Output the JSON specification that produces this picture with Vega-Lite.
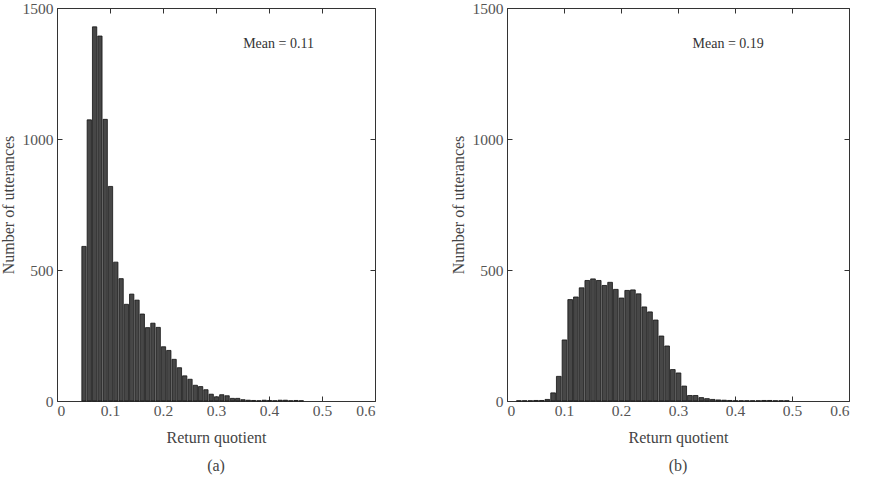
{
  "$schema": "https://vega.github.io/schema/vega-lite/v6.json",
  "padding": {"left": 0, "top": 1, "right": 18, "bottom": 5},
  "background": "white",
  "config": {
    "font": "Liberation Serif",
    "view": {"stroke": null},
    "axis": {
      "labelFont": "Liberation Serif", "titleFont": "Liberation Serif",
      "labelFontSize": 15.5, "titleFontSize": 16,
      "labelColor": "#555", "titleColor": "#444", "titleFontWeight": "normal",
      "domainColor": "#333", "tickColor": "#333", "grid": false,
      "tickSize": -5, "labelPadding": 9
    },
    "title": {"font": "Liberation Serif", "fontSize": 16, "fontWeight": "normal", "color": "#444"},
    "concat": {"spacing": 74}
  },
  "datasets": {
    "a": [
      {"bin_start": 0.045, "bin_end": 0.055, "count": 590},
      {"bin_start": 0.055, "bin_end": 0.065, "count": 1073},
      {"bin_start": 0.065, "bin_end": 0.075, "count": 1428},
      {"bin_start": 0.075, "bin_end": 0.085, "count": 1393},
      {"bin_start": 0.085, "bin_end": 0.095, "count": 1075},
      {"bin_start": 0.095, "bin_end": 0.105, "count": 819},
      {"bin_start": 0.105, "bin_end": 0.115, "count": 530},
      {"bin_start": 0.115, "bin_end": 0.125, "count": 467},
      {"bin_start": 0.125, "bin_end": 0.135, "count": 369},
      {"bin_start": 0.135, "bin_end": 0.145, "count": 408},
      {"bin_start": 0.145, "bin_end": 0.155, "count": 385},
      {"bin_start": 0.155, "bin_end": 0.165, "count": 332},
      {"bin_start": 0.165, "bin_end": 0.175, "count": 280},
      {"bin_start": 0.175, "bin_end": 0.185, "count": 297},
      {"bin_start": 0.185, "bin_end": 0.195, "count": 281},
      {"bin_start": 0.195, "bin_end": 0.205, "count": 207},
      {"bin_start": 0.205, "bin_end": 0.215, "count": 193},
      {"bin_start": 0.215, "bin_end": 0.225, "count": 159},
      {"bin_start": 0.225, "bin_end": 0.235, "count": 127},
      {"bin_start": 0.235, "bin_end": 0.245, "count": 96},
      {"bin_start": 0.245, "bin_end": 0.255, "count": 83},
      {"bin_start": 0.255, "bin_end": 0.265, "count": 60},
      {"bin_start": 0.265, "bin_end": 0.275, "count": 55},
      {"bin_start": 0.275, "bin_end": 0.285, "count": 43},
      {"bin_start": 0.285, "bin_end": 0.295, "count": 26},
      {"bin_start": 0.295, "bin_end": 0.305, "count": 16},
      {"bin_start": 0.305, "bin_end": 0.315, "count": 24},
      {"bin_start": 0.315, "bin_end": 0.325, "count": 20},
      {"bin_start": 0.325, "bin_end": 0.335, "count": 10},
      {"bin_start": 0.335, "bin_end": 0.345, "count": 10},
      {"bin_start": 0.345, "bin_end": 0.355, "count": 5},
      {"bin_start": 0.355, "bin_end": 0.365, "count": 3},
      {"bin_start": 0.365, "bin_end": 0.375, "count": 2},
      {"bin_start": 0.375, "bin_end": 0.385, "count": 1},
      {"bin_start": 0.385, "bin_end": 0.395, "count": 3},
      {"bin_start": 0.395, "bin_end": 0.405, "count": 2},
      {"bin_start": 0.405, "bin_end": 0.415, "count": 1},
      {"bin_start": 0.415, "bin_end": 0.425, "count": 3},
      {"bin_start": 0.425, "bin_end": 0.435, "count": 3},
      {"bin_start": 0.435, "bin_end": 0.445, "count": 1},
      {"bin_start": 0.445, "bin_end": 0.455, "count": 2},
      {"bin_start": 0.455, "bin_end": 0.465, "count": 1}
    ],
    "b": [
      {"bin_start": 0.015, "bin_end": 0.025, "count": 1},
      {"bin_start": 0.025, "bin_end": 0.035, "count": 1},
      {"bin_start": 0.035, "bin_end": 0.045, "count": 1},
      {"bin_start": 0.045, "bin_end": 0.055, "count": 2},
      {"bin_start": 0.055, "bin_end": 0.065, "count": 2},
      {"bin_start": 0.065, "bin_end": 0.075, "count": 6},
      {"bin_start": 0.075, "bin_end": 0.085, "count": 31},
      {"bin_start": 0.085, "bin_end": 0.095, "count": 94},
      {"bin_start": 0.095, "bin_end": 0.105, "count": 233},
      {"bin_start": 0.105, "bin_end": 0.115, "count": 387},
      {"bin_start": 0.115, "bin_end": 0.125, "count": 397},
      {"bin_start": 0.125, "bin_end": 0.135, "count": 432},
      {"bin_start": 0.135, "bin_end": 0.145, "count": 460},
      {"bin_start": 0.145, "bin_end": 0.155, "count": 466},
      {"bin_start": 0.155, "bin_end": 0.165, "count": 460},
      {"bin_start": 0.165, "bin_end": 0.175, "count": 441},
      {"bin_start": 0.175, "bin_end": 0.185, "count": 453},
      {"bin_start": 0.185, "bin_end": 0.195, "count": 426},
      {"bin_start": 0.195, "bin_end": 0.205, "count": 393},
      {"bin_start": 0.205, "bin_end": 0.215, "count": 422},
      {"bin_start": 0.215, "bin_end": 0.225, "count": 424},
      {"bin_start": 0.225, "bin_end": 0.235, "count": 409},
      {"bin_start": 0.235, "bin_end": 0.245, "count": 359},
      {"bin_start": 0.245, "bin_end": 0.255, "count": 340},
      {"bin_start": 0.255, "bin_end": 0.265, "count": 309},
      {"bin_start": 0.265, "bin_end": 0.275, "count": 248},
      {"bin_start": 0.275, "bin_end": 0.285, "count": 210},
      {"bin_start": 0.285, "bin_end": 0.295, "count": 120},
      {"bin_start": 0.295, "bin_end": 0.305, "count": 107},
      {"bin_start": 0.305, "bin_end": 0.315, "count": 57},
      {"bin_start": 0.315, "bin_end": 0.325, "count": 21},
      {"bin_start": 0.325, "bin_end": 0.335, "count": 21},
      {"bin_start": 0.335, "bin_end": 0.345, "count": 13},
      {"bin_start": 0.345, "bin_end": 0.355, "count": 9},
      {"bin_start": 0.355, "bin_end": 0.365, "count": 6},
      {"bin_start": 0.365, "bin_end": 0.375, "count": 4},
      {"bin_start": 0.375, "bin_end": 0.385, "count": 3},
      {"bin_start": 0.385, "bin_end": 0.395, "count": 2},
      {"bin_start": 0.395, "bin_end": 0.405, "count": 1},
      {"bin_start": 0.405, "bin_end": 0.415, "count": 1},
      {"bin_start": 0.415, "bin_end": 0.425, "count": 1},
      {"bin_start": 0.425, "bin_end": 0.435, "count": 1},
      {"bin_start": 0.435, "bin_end": 0.445, "count": 1},
      {"bin_start": 0.445, "bin_end": 0.455, "count": 2},
      {"bin_start": 0.455, "bin_end": 0.465, "count": 2},
      {"bin_start": 0.465, "bin_end": 0.475, "count": 1},
      {"bin_start": 0.475, "bin_end": 0.485, "count": 1},
      {"bin_start": 0.485, "bin_end": 0.495, "count": 1}
    ]
  },
  "hconcat": [
    {
      "width": 318, "height": 393,
      "title": {"text": "(a)", "orient": "bottom", "offset": 12},
      "layer": [
        {
          "data": {"name": "a"},
          "mark": {"type": "bar", "fill": "#474747", "stroke": "#111", "strokeWidth": 0.8},
          "encoding": {
            "x": {"field": "bin_start", "type": "quantitative", "bin": "binned", "scale": {"domain": [0, 0.6], "nice": false},
                  "axis": {"orient": "bottom", "values": [0, 0.1, 0.2, 0.3, 0.4, 0.5, 0.6], "format": "~g", "title": "Return quotient", "labelPadding": 7, "titlePadding": 11}},
            "x2": {"field": "bin_end"},
            "y": {"field": "count", "type": "quantitative", "scale": {"domain": [0, 1500], "nice": false},
                  "axis": {"orient": "left", "values": [0, 500, 1000, 1500], "format": "d", "title": "Number of utterances", "titlePadding": 6}}
          }
        },
        {
          "data": {"values": [{"label": "Mean = 0.11"}]},
          "mark": {"type": "text", "font": "Liberation Serif", "fontSize": 14, "color": "#333"},
          "encoding": {
            "x": {"datum": 0.418, "type": "quantitative",
                  "axis": {"orient": "top", "values": [0, 0.1, 0.2, 0.3, 0.4, 0.5, 0.6], "labels": false, "title": null}},
            "y": {"datum": 1362, "type": "quantitative",
                  "axis": {"orient": "right", "values": [0, 500, 1000, 1500], "labels": false, "title": null}},
            "text": {"field": "label"}
          }
        }
      ],
      "resolve": {"axis": {"x": "independent", "y": "independent"}}
    },
    {
      "width": 342, "height": 393,
      "title": {"text": "(b)", "orient": "bottom", "offset": 12},
      "layer": [
        {
          "data": {"name": "b"},
          "mark": {"type": "bar", "fill": "#474747", "stroke": "#111", "strokeWidth": 0.8},
          "encoding": {
            "x": {"field": "bin_start", "type": "quantitative", "bin": "binned", "scale": {"domain": [0, 0.6], "nice": false},
                  "axis": {"orient": "bottom", "values": [0, 0.1, 0.2, 0.3, 0.4, 0.5, 0.6], "format": "~g", "title": "Return quotient", "labelPadding": 7, "titlePadding": 11}},
            "x2": {"field": "bin_end"},
            "y": {"field": "count", "type": "quantitative", "scale": {"domain": [0, 1500], "nice": false},
                  "axis": {"orient": "left", "values": [0, 500, 1000, 1500], "format": "d", "title": "Number of utterances", "titlePadding": 6}}
          }
        },
        {
          "data": {"values": [{"label": "Mean = 0.19"}]},
          "mark": {"type": "text", "font": "Liberation Serif", "fontSize": 14, "color": "#333"},
          "encoding": {
            "x": {"datum": 0.388, "type": "quantitative",
                  "axis": {"orient": "top", "values": [0, 0.1, 0.2, 0.3, 0.4, 0.5, 0.6], "labels": false, "title": null}},
            "y": {"datum": 1362, "type": "quantitative",
                  "axis": {"orient": "right", "values": [0, 500, 1000, 1500], "labels": false, "title": null}},
            "text": {"field": "label"}
          }
        }
      ],
      "resolve": {"axis": {"x": "independent", "y": "independent"}}
    }
  ]
}
